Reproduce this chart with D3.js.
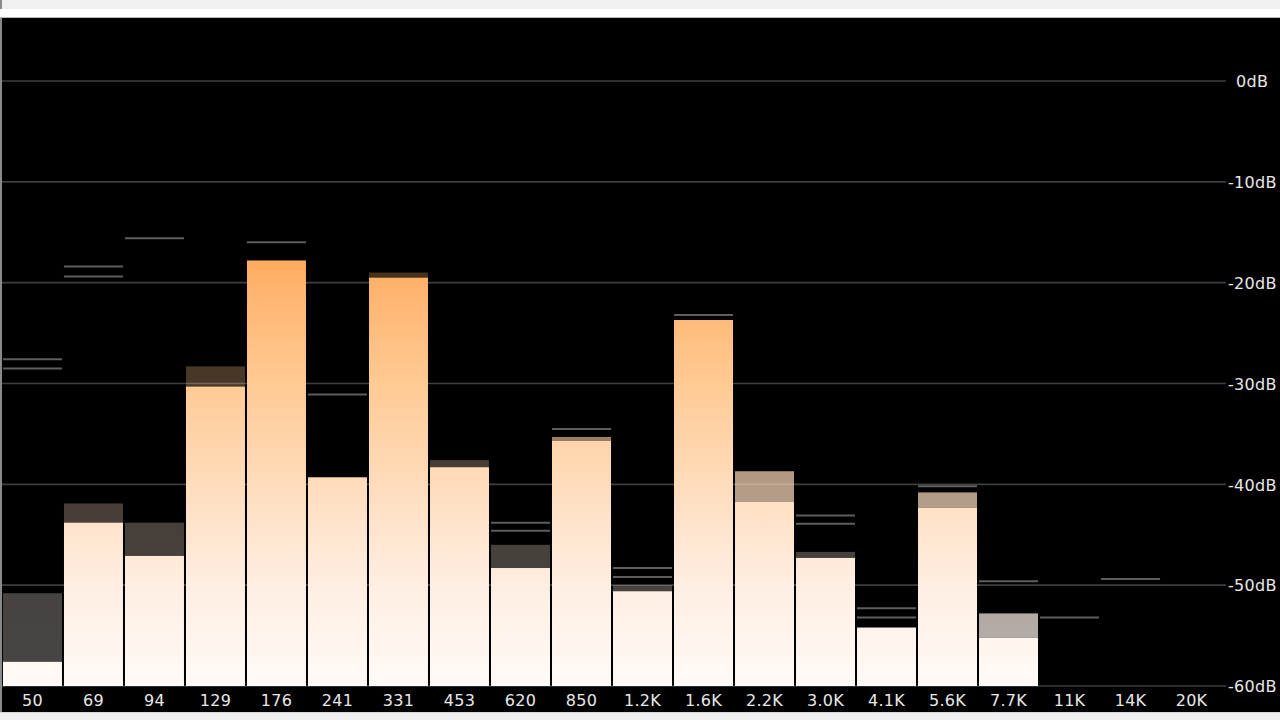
<!DOCTYPE html>
<html><head><meta charset="utf-8">
<script src="https://cdn.jsdelivr.net/npm/d3@7"></script>
<style>html,body{margin:0;padding:0;background:#f0f0f0;overflow:hidden}svg{display:block}</style>
</head><body>
<svg id="c" width="1280" height="720"></svg>
<script>
// ---- data ----
const bands = ["50","69","94","129","176","241","331","453","620","850","1.2K","1.6K","2.2K","3.0K","4.1K","5.6K","7.7K","11K","14K","20K"];
const levels = [-57.6,-43.8,-47.1,-30.3,-17.8,-39.3,-19.5,-38.3,-48.3,-35.7,-50.6,-23.7,-41.7,-47.3,-54.2,-42.3,-55.2,-60,-60,-60];
const holdLevels = [-50.8,-41.9,-43.8,-28.3,null,null,-19.0,-37.6,-46.0,-35.3,-50.0,null,-38.7,-46.7,null,-40.8,-52.8,null,null,null];
const holdFade = [0.28,0.28,0.28,0.28,null,null,0.28,0.28,0.28,0.6,0.28,null,0.7,0.28,null,0.7,0.7,null,null,null];
const peakA = [-27.6,-18.4,-15.6,null,-16.0,-31.1,null,null,-43.8,-34.5,-48.3,-23.2,null,-43.1,-52.3,-40.2,-49.6,-53.2,-49.4,null];
const peakB = [-28.5,-19.4,null,null,null,null,null,null,-44.6,null,-49.2,null,null,-43.9,-53.2,null,null,null,null,null];
const dbTicks = [0,-10,-20,-30,-40,-50,-60];

// ---- layout ----
const svg = d3.select("#c");
const plotTop = 18, plotBottom = 686;
const y = d3.scaleLinear().domain([0,-60]).range([81,686]);
const x = d3.scaleBand().domain(bands).range([2,1222]).paddingInner(0.033).paddingOuter(0.016);

// chrome
svg.append("rect").attr("x",0).attr("y",0).attr("width",1280).attr("height",720).attr("fill","#f0f0f0");
svg.append("rect").attr("x",0).attr("y",9).attr("width",1280).attr("height",8).attr("fill","#ffffff");
svg.append("rect").attr("x",0).attr("y",plotTop-1).attr("width",1280).attr("height",1).attr("fill","#b8b8b8");
svg.append("rect").attr("x",0).attr("y",plotTop).attr("width",1280).attr("height",712-plotTop).attr("fill","#000");
svg.append("rect").attr("x",0).attr("y",plotTop).attr("width",2).attr("height",712-plotTop).attr("fill","#8a8a8a");
svg.append("rect").attr("x",0).attr("y",0).attr("width",2).attr("height",9).attr("fill","#8a8a8a");
svg.append("rect").attr("x",0).attr("y",712).attr("width",1280).attr("height",1).attr("fill","#d8d8d8");

// gradient
const defs = svg.append("defs");
const g = defs.append("linearGradient").attr("id","barGrad").attr("gradientUnits","userSpaceOnUse")
  .attr("x1",0).attr("x2",0).attr("y1",y(-60)).attr("y2",y(0));
[[-60,"#fffaf7"],[-50,"#ffeee2"],[-40,"#ffdcbc"],[-30,"#ffca94"],[-20,"#ffb26c"],[-17,"#ffa95a"],[0,"#ff9433"]]
 .forEach(([d,c])=>g.append("stop").attr("offset",(y(-60)-y(d))/(y(-60)-y(0))).attr("stop-color",c));

// grid
svg.append("g").selectAll("line").data(dbTicks).join("line")
  .attr("x1",2).attr("x2",1226).attr("y1",d=>y(d)).attr("y2",d=>y(d))
  .attr("stroke","#3e3e3e").attr("stroke-width",1.6);

// right axis labels
const axis = d3.axisRight(y).tickValues(dbTicks).tickSize(0).tickPadding(0).tickFormat(d=>d+"dB");
const ax = svg.append("g").attr("transform","translate(1228,0)").call(axis);
ax.select(".domain").remove();
ax.selectAll("text").attr("fill","#e8e8e8").style("font-family","DejaVu Sans, sans-serif")
  .style("font-size","16px").style("letter-spacing","0.3px")
  .attr("x",d=>d===0?8:0).attr("dy","0.36em");

// bars
const idx = d3.range(bands.length);
svg.append("g").selectAll("rect").data(idx.filter(i=>levels[i]>-60)).join("rect")
  .attr("x",i=>x(bands[i])).attr("width",x.bandwidth())
  .attr("y",i=>y(levels[i])).attr("height",i=>plotBottom-y(levels[i]))
  .attr("fill","url(#barGrad)");

// hold segments
svg.append("g").selectAll("rect").data(idx.filter(i=>holdLevels[i]!==null)).join("rect")
  .attr("x",i=>x(bands[i])).attr("width",x.bandwidth())
  .attr("y",i=>y(holdLevels[i])).attr("height",i=>y(levels[i])-y(holdLevels[i]))
  .attr("fill","url(#barGrad)").attr("fill-opacity",i=>holdFade[i]);

// peak lines
const peaks = [];
idx.forEach(i=>{ if(peakA[i]!==null) peaks.push([i,peakA[i]]); if(peakB[i]!==null) peaks.push([i,peakB[i]]); });
svg.append("g").selectAll("line").data(peaks).join("line")
  .attr("x1",d=>x(bands[d[0]])).attr("x2",d=>x(bands[d[0]])+x.bandwidth())
  .attr("y1",d=>y(d[1])).attr("y2",d=>y(d[1]))
  .attr("stroke","#5e5e5e").attr("stroke-width",2);

// bottom axis
const bx = d3.axisBottom(x).tickSize(0).tickPadding(0);
const bg = svg.append("g").attr("transform","translate(0,"+(plotBottom+1)+")").call(bx);
bg.select(".domain").remove();
bg.selectAll("text").attr("fill","#e8e8e8").attr("y",13).attr("dy","0.38em")
  .style("font-family","DejaVu Sans, sans-serif").style("font-size","16px").style("letter-spacing","0.3px");
</script>
</body></html>
